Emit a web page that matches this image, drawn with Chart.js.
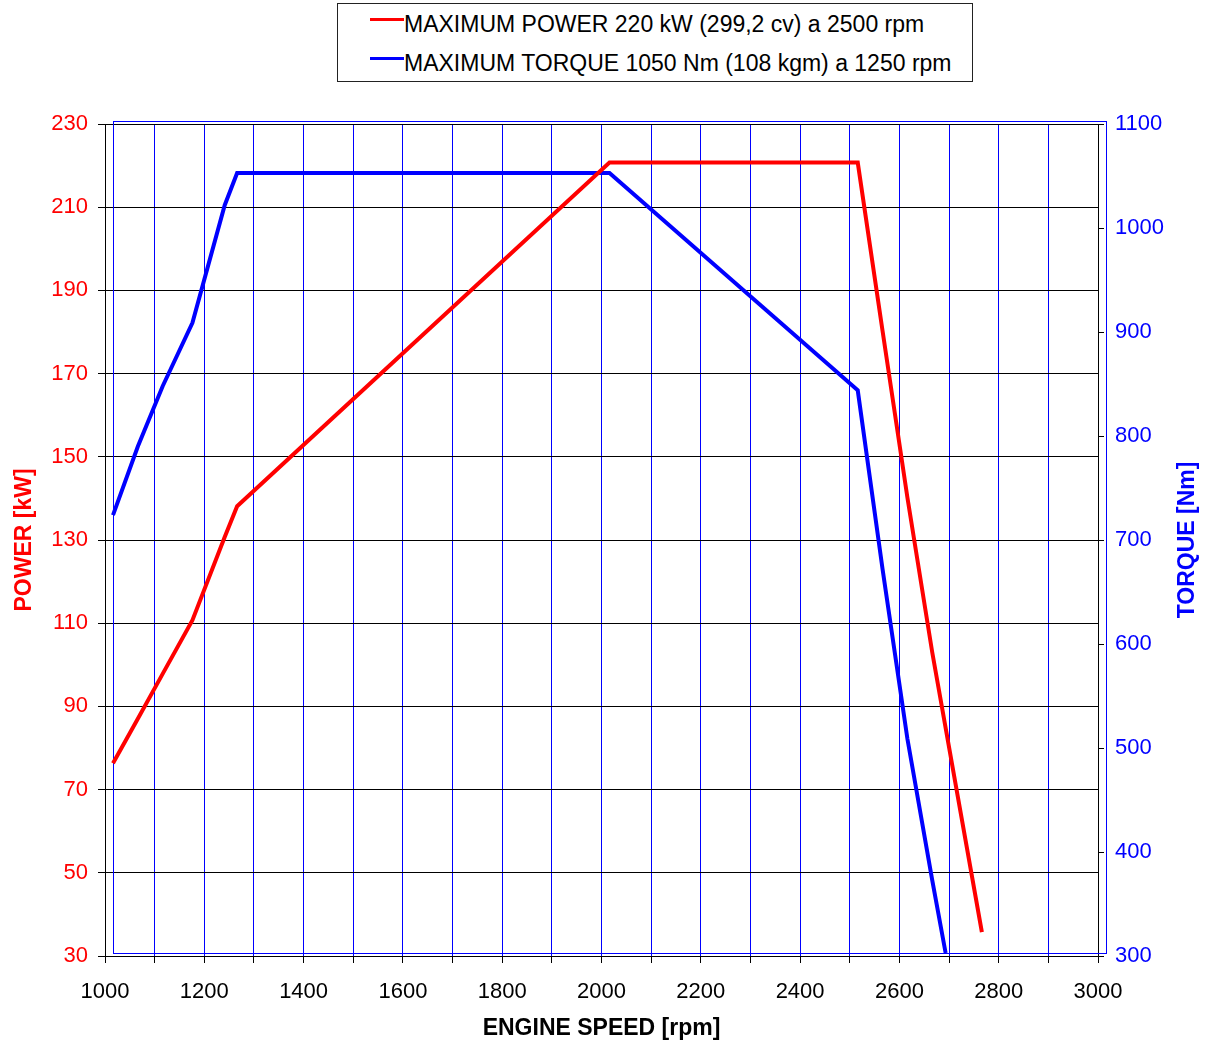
<!DOCTYPE html>
<html>
<head>
<meta charset="utf-8">
<title>Curvas de potencia y par</title>
<script src="https://cdn.jsdelivr.net/npm/chart.js@4.4.1/dist/chart.umd.min.js"></script>
<style>
    html, body { margin: 0; padding: 0; background: #fff; }
    #wrap { position: relative; width: 1206px; height: 1045px; }
    #grafico { position: absolute; left: 0; top: 0; }
    #leyenda {
        position: absolute; left: 337px; top: 3px;
        width: 636px; height: 79px; box-sizing: border-box;
        border: 1px solid #222; background: #fff;
        font: 23px Arial, "Liberation Sans", sans-serif; color: #000;
    }
    #leyenda .fila { position: absolute; left: 32px; height: 26px; line-height: 26px; white-space: nowrap; }
    #leyenda .muestra { position: absolute; left: 0; top: 7px; width: 34px; height: 3px; }
    #leyenda .texto { margin-left: 34px; }
</style>
</head>
<body>
<div id="wrap">
    <canvas id="grafico" width="1206" height="1045"></canvas>
    <div id="leyenda"></div>
</div>

<script>
// ------------------------------------------------------------
// Curvas de potencia y par del motor frente a régimen
// ------------------------------------------------------------

// Potencia [kW] por régimen [rpm]
const rpmPotencia = [1000, 1050, 1100, 1160, 1225, 1250, 2000, 2500, 2550, 2600, 2650, 2700, 2750];
const kwPotencia  = [75.6, 86.3, 97.1, 110.0, 130.0, 137.4, 220, 220, 179.5, 139.5, 102.3, 68.6, 35.0];

// Par [Nm] por régimen [rpm]
const rpmPar = [1000, 1050, 1100, 1160, 1225, 1250, 2000, 2500, 2550, 2600, 2650, 2677];
const nmPar  = [721, 787, 845, 906, 1019, 1050, 1050, 841, 669, 506, 370, 300];

// Marcas de los ejes
const ejeRpm = [1000, 1100, 1200, 1300, 1400, 1500, 1600, 1700, 1800, 1900, 2000,
                2100, 2200, 2300, 2400, 2500, 2600, 2700, 2800, 2900, 3000];
const etiquetasRpm = [1000, 1200, 1400, 1600, 1800, 2000, 2200, 2400, 2600, 2800, 3000];
const ejeKw = [30, 50, 70, 90, 110, 130, 150, 170, 190, 210, 230];
const ejeNm = [300, 400, 500, 600, 700, 800, 900, 1000, 1100];

const textoPotencia = 'MAXIMUM POWER 220 kW (299,2 cv) a 2500 rpm';
const textoPar = 'MAXIMUM TORQUE 1050 Nm (108 kgm) a 1250 rpm';
const tituloPar = 'TORQUE [Nm]';

const ROJO = '#ff0000';
const AZUL = '#0000ff';
const NEGRO = '#000000';
const FUENTE = 'Arial, "Liberation Sans", sans-serif';

// Geometría fija del área de trazado
const MARGEN_IZQ = 105, MARGEN_DER = 108, MARGEN_SUP = 124, ALTO_EJE_X = 89;
const AREA_W = 1206 - MARGEN_IZQ - MARGEN_DER;   // 993
const AREA_H = 1045 - MARGEN_SUP - ALTO_EJE_X;   // 832

// Las curvas van en un segundo marco (azul) desplazado 8 px a la derecha
// y 3 px hacia arriba respecto de la rejilla principal
const DESPL_X = 8, DESPL_Y = 3;
const first = a => a[0];
const last = a => a[a.length - 1];
const dRpm = DESPL_X * (last(ejeRpm) - first(ejeRpm)) / AREA_W;
const dKw  = DESPL_Y * (last(ejeKw) - first(ejeKw)) / AREA_H;
const dNm  = DESPL_Y * (last(ejeNm) - first(ejeNm)) / AREA_H;

function fijarTicks(valores) {
    return function (scale) { scale.ticks = valores.map(v => ({ value: v })); };
}

function puntos(xs, ys) {
    return xs.map((x, i) => ({ x: x, y: ys[i] }));
}

// Marco azul del gráfico superpuesto
const marcoAzul = {
    id: 'marcoAzul',
    beforeDatasetsDraw(chart) {
        const sx = chart.scales.xDatos, sy = chart.scales.yPotencia;
        const x0 = Math.round(sx.getPixelForValue(first(ejeRpm))) + 0.5;
        const x1 = Math.round(sx.getPixelForValue(last(ejeRpm))) + 0.5;
        const y0 = Math.round(sy.getPixelForValue(last(ejeKw))) + 0.5;
        const y1 = Math.round(sy.getPixelForValue(first(ejeKw))) + 0.5;
        const ctx = chart.ctx;
        ctx.save();
        ctx.strokeStyle = AZUL;
        ctx.lineWidth = 1;
        ctx.strokeRect(x0, y0, x1 - x0, y1 - y0);
        ctx.restore();
    }
};

// Título del eje derecho, leído de abajo arriba como el izquierdo
const tituloDerecho = {
    id: 'tituloDerecho',
    afterDraw(chart) {
        const area = chart.chartArea;
        const ctx = chart.ctx;
        ctx.save();
        ctx.translate(1188, (area.top + area.bottom) / 2);
        ctx.rotate(-Math.PI / 2);
        ctx.font = 'bold 23px ' + FUENTE;
        ctx.fillStyle = AZUL;
        ctx.textAlign = 'center';
        ctx.textBaseline = 'middle';
        ctx.fillText(tituloPar, 0, 0);
        ctx.restore();
    }
};

Chart.defaults.font.family = FUENTE;
Chart.defaults.font.size = 22;
Chart.defaults.color = NEGRO;

const chart = new Chart(document.getElementById('grafico'), {
    type: 'line',
    data: {
        datasets: [{
            label: textoPotencia,
            data: puntos(rpmPotencia, kwPotencia),
            xAxisID: 'xDatos',
            yAxisID: 'yPotencia',
            borderColor: ROJO,
            borderWidth: 4,
            pointRadius: 0,
            tension: 0,
            fill: false,
        }, {
            label: textoPar,
            data: puntos(rpmPar, nmPar),
            xAxisID: 'xDatos',
            yAxisID: 'yPar',
            borderColor: AZUL,
            borderWidth: 4,
            pointRadius: 0,
            tension: 0,
            fill: false,
        }]
    },
    options: {
        responsive: false,
        devicePixelRatio: 1,
        animation: false,
        events: [],
        layout: { padding: { top: MARGEN_SUP, left: 0, right: 0, bottom: 0 } },
        plugins: {
            legend: { display: false },
            tooltip: { enabled: false },
        },
        scales: {
            // Ejes visibles
            x: {
                type: 'linear',
                position: 'bottom',
                min: first(ejeRpm),
                max: last(ejeRpm),
                afterBuildTicks: fijarTicks(ejeRpm),
                afterFit: s => { s.height = ALTO_EJE_X; },
                grid: {
                    color: c => (c.tick && (c.tick.value === first(ejeRpm) || c.tick.value === last(ejeRpm))) ? NEGRO : AZUL,
                    tickColor: NEGRO,
                    tickLength: 7,
                    lineWidth: 1,
                },
                border: { color: NEGRO, width: 1 },
                ticks: {
                    color: NEGRO,
                    padding: 16,
                    maxRotation: 0,
                    autoSkip: false,
                    callback: v => etiquetasRpm.includes(v) ? String(v) : '',
                },
                title: {
                    display: true,
                    text: 'ENGINE SPEED [rpm]',
                    color: NEGRO,
                    font: { size: 23, weight: 'bold' },
                    padding: { top: 0, bottom: 3 },
                },
            },
            yKw: {
                type: 'linear',
                position: 'left',
                min: first(ejeKw),
                max: last(ejeKw),
                afterBuildTicks: fijarTicks(ejeKw),
                afterFit: s => { s.width = MARGEN_IZQ; },
                grid: { color: NEGRO, tickColor: NEGRO, tickLength: 7, lineWidth: 1 },
                border: { color: NEGRO, width: 1 },
                ticks: { color: ROJO, padding: 10, autoSkip: false, callback: v => String(v) },
                title: {
                    display: true,
                    text: 'POWER [kW]',
                    color: ROJO,
                    font: { size: 23, weight: 'bold' },
                    padding: { top: 11, bottom: 0 },
                },
            },
            yNm: {
                type: 'linear',
                position: 'right',
                min: first(ejeNm),
                max: last(ejeNm),
                afterBuildTicks: fijarTicks(ejeNm),
                afterFit: s => { s.width = MARGEN_DER; },
                grid: { drawOnChartArea: false, tickColor: NEGRO, tickLength: 6 },
                border: { color: NEGRO, width: 1 },
                ticks: { color: AZUL, padding: 11, autoSkip: false, callback: v => String(v) },
                title: { display: false },
            },
            // Ejes ocultos de las curvas (marco azul desplazado)
            xDatos: {
                type: 'linear',
                display: false,
                min: first(ejeRpm) - dRpm,
                max: last(ejeRpm) - dRpm,
            },
            yPotencia: {
                type: 'linear',
                display: false,
                min: first(ejeKw) - dKw,
                max: last(ejeKw) - dKw,
            },
            yPar: {
                type: 'linear',
                display: false,
                min: first(ejeNm) - dNm,
                max: last(ejeNm) - dNm,
            },
        }
    },
    plugins: [marcoAzul, tituloDerecho]
});

// Leyenda con recuadro, construida a partir de las series
(function () {
    const caja = document.getElementById('leyenda');
    const filasTop = [7, 46];
    chart.data.datasets.forEach(function (ds, i) {
        const fila = document.createElement('div');
        fila.className = 'fila';
        fila.style.top = filasTop[i] + 'px';
        const muestra = document.createElement('span');
        muestra.className = 'muestra';
        muestra.style.background = ds.borderColor;
        const texto = document.createElement('span');
        texto.className = 'texto';
        texto.textContent = ds.label;
        fila.appendChild(muestra);
        fila.appendChild(texto);
        caja.appendChild(fila);
    });
})();
</script>
</body>
</html>
